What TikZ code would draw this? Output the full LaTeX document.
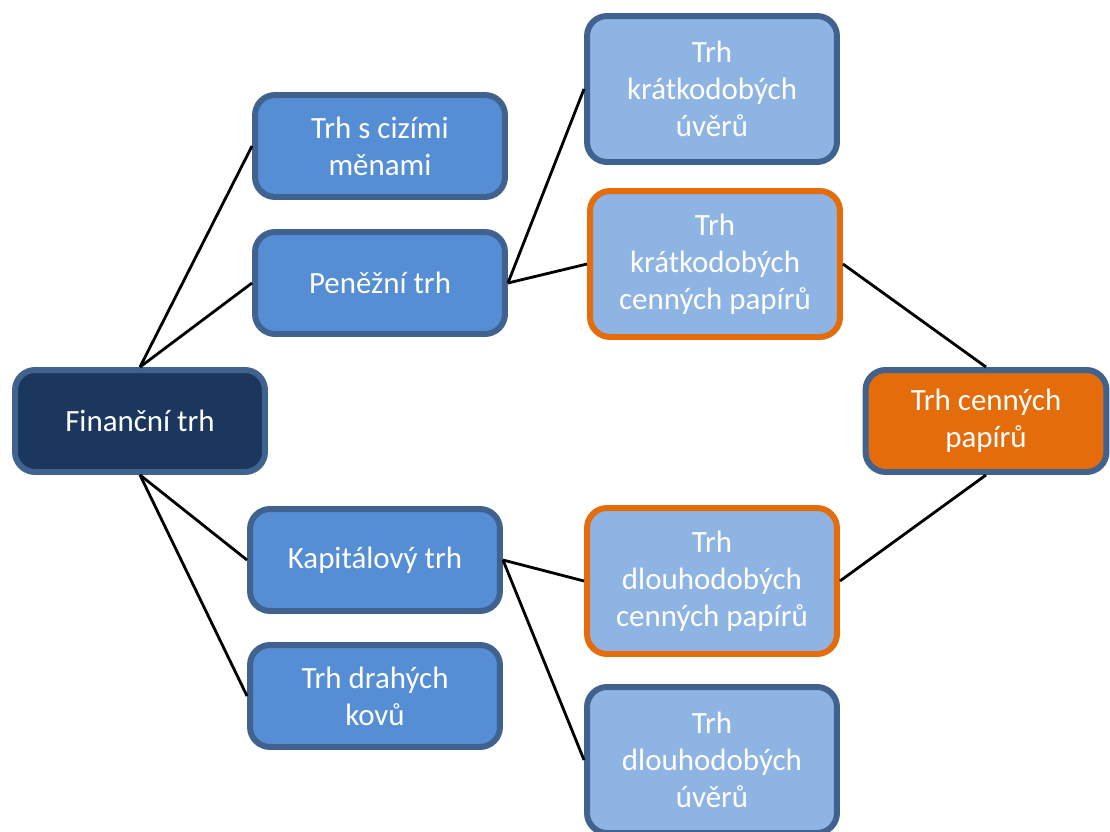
\documentclass[tikz,border=0pt]{standalone}
\usepackage{fontspec}
\setmainfont{Carlito}
\usepackage{tikz}
\usetikzlibrary{positioning}

\definecolor{navy}{HTML}{1B375D}
\definecolor{edgeblue}{HTML}{3F628F}
\definecolor{midblue}{HTML}{558ED5}
\definecolor{lightblue}{HTML}{8EB4E3}
\definecolor{orangefill}{HTML}{E46C0A}

\begin{document}
\begin{tikzpicture}[x=0.02cm, y=-0.02cm,
    box/.style={draw=edgeblue, line width=3.4pt, rounded corners=0.4cm, align=center,
        text=white, font=\fontsize{17.6}{21.2}\selectfont, inner sep=0pt},
    darkbox/.style={box, fill=navy, minimum width=5.0cm, minimum height=2.04cm},
    midbox/.style={box, fill=midblue, minimum width=5.0cm, minimum height=2.04cm},
    lightbox/.style={box, fill=lightblue, minimum width=5.0cm, minimum height=2.92cm},
    orangebox/.style={lightbox, draw=orangefill},
    link/.style={line width=1.6pt, black}]

    \useasboundingbox (0,0) rectangle (1110,832);

    % left column
    \node[darkbox] (fin) at (140,421) {Finanční trh};

    % middle column
    \node[midbox] (cizi)  at (380,146) {Trh s cizími\\měnami};
    \node[midbox] (penez) at (380,283) {Peněžní trh};
    \node[midbox] (kapit) at (375,560) {Kapitálový trh};
    \node[midbox] (drahe) at (375,696) {Trh drahých\\kovů};

    % right column
    \node[lightbox]  (kuver) at (712,89)  {Trh\\krátkodobých\\úvěrů};
    \node[orangebox] (kcp)   at (715,264) {Trh\\krátkodobých\\cenných papírů};
    \node[orangebox] (dcp)   at (712,581) {Trh\\dlouhodobých\\cenných papírů};
    \node[lightbox]  (duver) at (712,760) {Trh\\dlouhodobých\\úvěrů};

    \node[box, fill=orangefill, minimum width=4.82cm, minimum height=2.04cm] (cp) at (986,421) {Trh cenných\\papírů};

    % connectors
    \draw[link] (fin.north) -- (cizi.west);
    \draw[link] (fin.north) -- (penez.west);
    \draw[link] (fin.south) -- (kapit.west);
    \draw[link] (fin.south) -- (drahe.west);

    \draw[link] (penez.east) -- (kuver.west);
    \draw[link] (penez.east) -- (kcp.west);
    \draw[link] (kapit.east) -- (dcp.west);
    \draw[link] (kapit.east) -- (duver.west);

    \draw[link] (kcp.east) -- (cp.north);
    \draw[link] (cp.south) -- (dcp.east);

\end{tikzpicture}
\end{document}
